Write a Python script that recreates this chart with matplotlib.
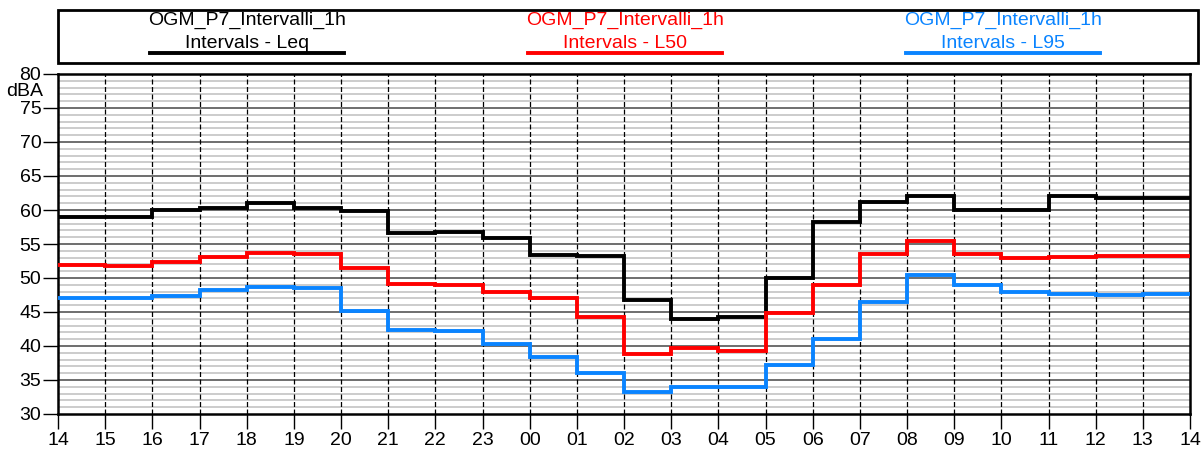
import numpy as np
import matplotlib.pyplot as plt
from matplotlib.lines import Line2D
from matplotlib.patches import Rectangle

plt.rcParams['font.family'] = ['Liberation Sans', 'DejaVu Sans']

hours = ["14", "15", "16", "17", "18", "19", "20", "21", "22", "23", "00", "01",
         "02", "03", "04", "05", "06", "07", "08", "09", "10", "11", "12", "13", "14"]

# hourly levels, dBA
leq = [58.9, 59.0, 60.0, 60.3, 61.0, 60.3, 59.8, 56.6, 56.8, 55.9, 53.4, 53.2,
       46.8, 44.0, 44.2, 50.0, 58.3, 61.2, 62.0, 60.0, 60.0, 62.0, 61.7, 61.8]
l50 = [51.9, 51.8, 52.4, 53.1, 53.7, 53.6, 51.5, 49.1, 48.9, 47.9, 47.0, 44.3,
       38.8, 39.7, 39.3, 44.8, 49.0, 53.5, 55.5, 53.5, 53.0, 53.1, 53.2, 53.2]
l95 = [47.0, 47.1, 47.3, 48.3, 48.7, 48.6, 45.2, 42.4, 42.2, 40.3, 38.4, 36.1,
       33.3, 33.9, 33.9, 37.2, 41.1, 46.4, 50.4, 48.9, 48.0, 47.7, 47.5, 47.6]

series = [
    (leq, "black", "OGM_P7_Intervalli_1h", "Intervals - Leq"),
    (l50, "#ff0000", "OGM_P7_Intervalli_1h", "Intervals - L50"),
    (l95, "#0a84ff", "OGM_P7_Intervalli_1h", "Intervals - L95"),
]

W, H = 1204, 450
fs = 14
fig = plt.figure(figsize=(W / 100, H / 100), dpi=100)
ax = fig.add_axes([58 / W, 1 - 414 / H, (1190 - 58) / W, (414 - 74) / H])

edges = np.arange(len(hours))
ax.set_xlim(0, len(hours) - 1)
ax.set_ylim(30, 80)

# grid: light every 1 dB, dark every 5 dB, dashed hourly verticals
for v in range(31, 80):
    if v % 5:
        ax.axhline(v, color="#c8c8c8", lw=1.3, zorder=0)
for v in range(35, 80, 5):
    ax.axhline(v, color="#555555", lw=1.2, zorder=0)
for x in edges[1:-1]:
    ax.axvline(x, color="black", lw=0.9, ls=(0, (4, 2)), zorder=0.5)

for vals, col, _, _ in series:
    ax.stairs(vals, edges, color=col, lw=2.8, baseline=None, zorder=3)

ax.set_xticks(edges)
ax.set_xticklabels(hours)
ax.set_yticks(np.arange(30, 81, 5))
ax.tick_params(axis="both", direction="out", length=11, width=1.0, labelsize=fs, pad=1)
ax.tick_params(axis="x", pad=2)
for s in ax.spines.values():
    s.set_linewidth(1.8)
ax.text(-0.013, 1 - 17 / 340, "dBA", transform=ax.transAxes, ha="right", va="center",
        fontsize=fs)

# legend panel above the plot
fig.patches.append(Rectangle((58 / W, 1 - 63 / H), (1198 - 58) / W, (63 - 10) / H,
                             transform=fig.transFigure, fill=False, ec="black", lw=2.0))
centers = [247, 625, 1003]
for (vals, col, l1, l2), cx in zip(series, centers):
    fig.text(cx / W, 1 - 20 / H, l1, color=col, ha="center", va="center", fontsize=fs)
    fig.text(cx / W, 1 - 43 / H, l2, color=col, ha="center", va="center", fontsize=fs)
    fig.lines.append(Line2D([(cx - 97) / W, (cx + 97) / W], [1 - 53 / H, 1 - 53 / H],
                            transform=fig.transFigure, color=col, lw=2.8))

fig.savefig("out.png", dpi=100)
